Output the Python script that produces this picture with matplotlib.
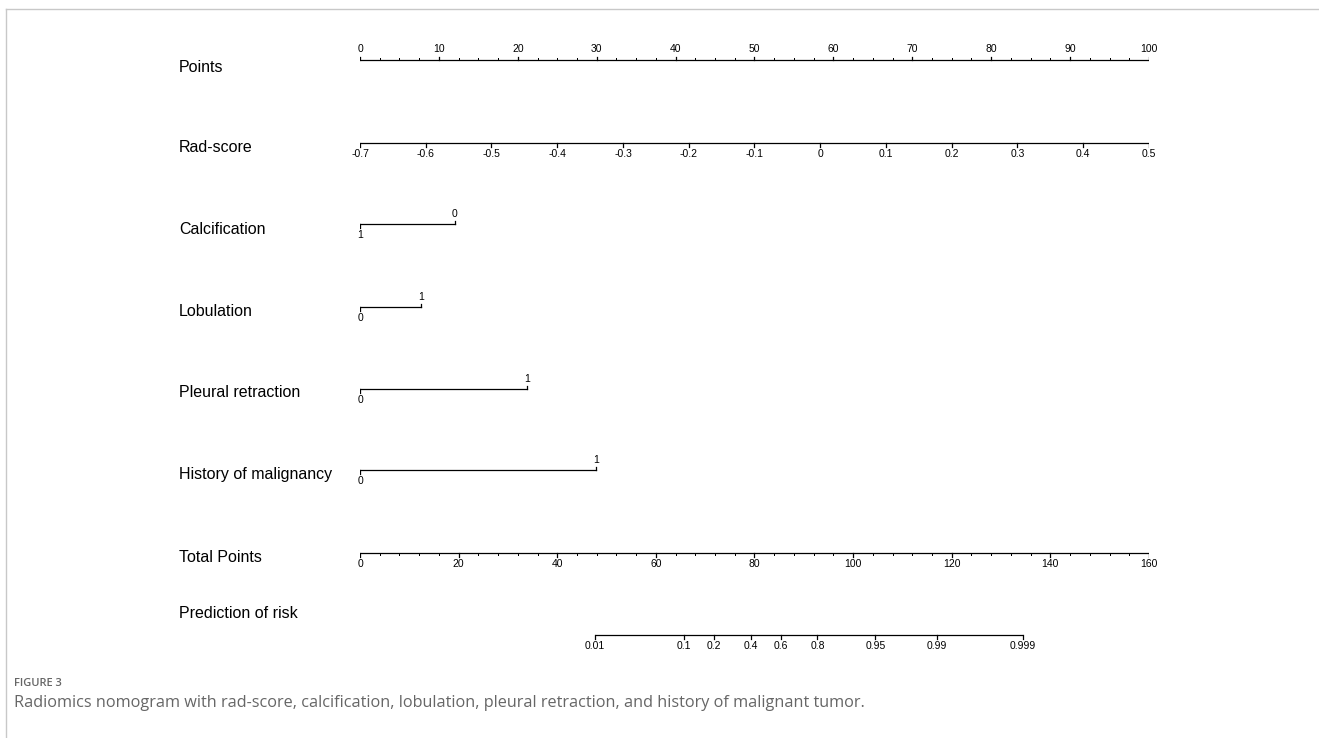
import numpy as np
import matplotlib
matplotlib.use('Agg')
import matplotlib.pyplot as plt
from matplotlib.lines import Line2D

# Nomogram scales (points model)
row_names = ['Points', 'Rad-score', 'Calcification', 'Lobulation',
             'Pleural retraction', 'History of malignancy', 'Total Points',
             'Prediction of risk']

points_ticks = list(range(0, 101, 10))
points_minor = list(np.arange(0, 100.01, 2.5))

rad_ticks = [-0.7, -0.6, -0.5, -0.4, -0.3, -0.2, -0.1, 0.0, 0.1, 0.2, 0.3, 0.4, 0.5]
rad_labels = ['-0.7', '-0.6', '-0.5', '-0.4', '-0.3', '-0.2', '-0.1', '0',
              '0.1', '0.2', '0.3', '0.4', '0.5']
rad_min, rad_max = -0.7, 0.5   # spans the full 0-100 points

calc_levels = ['0', '1']
calc_points = [12.0, 0.0]
lob_levels = ['0', '1']
lob_points = [0.0, 7.7]
pleural_levels = ['0', '1']
pleural_points = [0.0, 21.2]
history_levels = ['0', '1']
history_points = [0.0, 29.9]

total_ticks = list(range(0, 161, 20))
total_minor = list(range(0, 161, 4))
total_max = 160

risk_ticks = [0.01, 0.1, 0.2, 0.4, 0.6, 0.8, 0.95, 0.99, 0.999]
risk_labels = ['0.01', '0.1', '0.2', '0.4', '0.6', '0.8', '0.95', '0.99', '0.999']
# logit(risk) = (total points - lp_center) / lp_scale
lp_center = 82.3
lp_scale = 7.54

W, H = 1319, 738
fig = plt.figure(figsize=(W / 100, H / 100), dpi=100)
fig.patch.set_facecolor('white')

# axes x is in "points" units, y in pixel rows
ax = fig.add_axes([360 / W, 0, 789 / W, 1])
ax.set_xlim(0, 100)
ax.set_ylim(H, 0)
ax.axis('off')

row_y = [60, 143, 224, 307, 389, 470, 553, 635]
label_y = [67, 147, 229, 311, 393, 475, 558, 613]
FONT = 'Liberation Sans'
LW = 0.9
TICK_FS = 7.5


def draw_scale(y, xs, labels, up, minor=None):
    d = -1 if up else 1
    ax.plot([min(xs), max(xs)], [y, y], color='black', lw=LW, solid_capstyle='butt')
    if minor is not None:
        for m in minor:
            ax.plot([m, m], [y, y + d * 2], color='black', lw=LW * 0.8)
    for x, lab in zip(xs, labels):
        ax.plot([x, x], [y, y + d * 3.5], color='black', lw=LW)
        if up:
            ax.text(x, y - 8, lab, ha='center', va='baseline', fontsize=TICK_FS, family=FONT)
        else:
            ax.text(x, y + 6, lab, ha='center', va='top', fontsize=TICK_FS, family=FONT)


def draw_factor(y, levels, pts):
    order = np.argsort(pts)
    xs = [pts[i] for i in order]
    ax.plot([min(xs), max(xs)], [y, y], color='black', lw=LW)
    for k, i in enumerate(order):
        up = k % 2 == 1
        d = -1 if up else 1
        ax.plot([pts[i], pts[i]], [y, y + d * 3.5], color='black', lw=LW)
        if up:
            ax.text(pts[i], y - 7, levels[i], ha='center', va='baseline', fontsize=TICK_FS, family=FONT)
        else:
            ax.text(pts[i], y + 6, levels[i], ha='center', va='top', fontsize=TICK_FS, family=FONT)


def to_total_axis(tp):
    return np.asarray(tp, dtype=float) * 100 / total_max


# Points
draw_scale(row_y[0], points_ticks, [str(t) for t in points_ticks], up=True, minor=points_minor)

# Rad-score
rad_x = [(r - rad_min) / (rad_max - rad_min) * 100 for r in rad_ticks]
draw_scale(row_y[1], rad_x, rad_labels, up=False)

# categorical predictors
draw_factor(row_y[2], calc_levels, calc_points)
draw_factor(row_y[3], lob_levels, lob_points)
draw_factor(row_y[4], pleural_levels, pleural_points)
draw_factor(row_y[5], history_levels, history_points)

# Total points
draw_scale(row_y[6], to_total_axis(total_ticks), [str(t) for t in total_ticks], up=False,
           minor=to_total_axis(total_minor))

# Prediction of risk
p = np.array(risk_ticks)
risk_tp = lp_center + lp_scale * np.log(p / (1 - p))
draw_scale(row_y[7], to_total_axis(risk_tp), risk_labels, up=False)

# row names
for name, y in zip(row_names, label_y):
    fig.text(179 / W, 1 - y / H, name, ha='left', va='center', fontsize=11.5, family=FONT)

# frame around figure
fig.add_artist(Line2D([6 / W, 1], [1 - 9 / H, 1 - 9 / H], color='#c8c8c8', lw=1.0,
                      transform=fig.transFigure))
fig.add_artist(Line2D([6 / W, 6 / W], [0, 1 - 9 / H], color='#c8c8c8', lw=1.0,
                      transform=fig.transFigure))

# caption
fig.text(14 / W, 1 - 683 / H, 'FIGURE 3', ha='left', va='center', fontsize=8,
         color='#666666', family='Open Sans', weight='semibold')
fig.text(14 / W, 1 - 703 / H,
         'Radiomics nomogram with rad-score, calcification, lobulation, pleural retraction, '
         'and history of malignant tumor.',
         ha='left', va='center', fontsize=11.7, color='#666666', family='Open Sans')

fig.savefig('out.png', dpi=100, facecolor='white')
